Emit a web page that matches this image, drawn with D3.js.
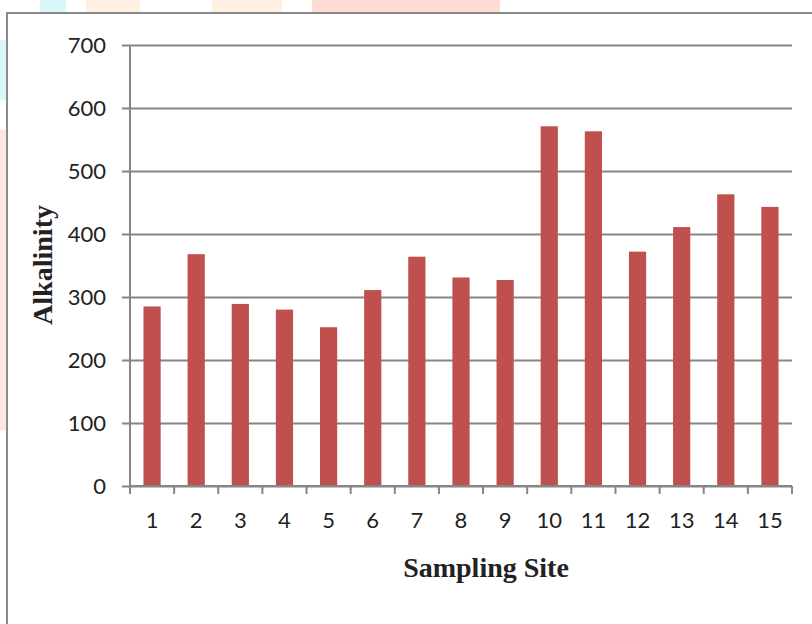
<!DOCTYPE html>
<html lang="en">
<head>
<meta charset="UTF-8">
<title>Alkalinity by Sampling Site</title>
<script src="https://d3js.org/d3.v7.min.js"></script>
<style>
  body { margin: 0; background: #fff; }
  svg text { fill: #222; }
</style>
</head>
<body>
<script>
    // chart data
    const sites = ["1","2","3","4","5","6","7","8","9","10","11","12","13","14","15"];
    const alkalinity = [285, 368, 289, 280, 252, 311, 364, 331, 327, 571, 563, 372, 411, 463, 443];
    const yTicks = [0, 100, 200, 300, 400, 500, 600, 700];

    const width = 812, height = 624;
    const plot = {left: 130, right: 792, top: 45, bottom: 486};

    const svg = d3.select("body").append("svg")
        .attr("width", width)
        .attr("height", height);

    // faint watermark patches behind the chart frame
    const patches = [
        [40, 0, 26, 13, "#d9f7fb"], [86, 0, 54, 13, "#fff0e2"],
        [212, 0, 70, 13, "#fff0e2"], [312, 0, 188, 13, "#ffdcd4"],
        [0, 40, 6, 60, "#d9f7fb"], [0, 130, 6, 300, "#ffe6e6"]
    ];
    svg.selectAll("rect.bg").data(patches).enter().append("rect")
        .attr("class", "bg")
        .attr("x", d => d[0]).attr("y", d => d[1])
        .attr("width", d => d[2]).attr("height", d => d[3])
        .attr("fill", d => d[4]);

    // chart frame
    svg.append("path")
        .attr("d", `M7,${height} V13 H${width}`)
        .attr("fill", "none")
        .attr("stroke", "#8a8a8a")
        .attr("stroke-width", 2);

    const x = d3.scaleBand()
        .domain(sites)
        .range([plot.left, plot.right])
        .paddingInner(0.61)
        .paddingOuter(0.305);

    const y = d3.scaleLinear()
        .domain([0, 700])
        .range([plot.bottom, plot.top]);

    // gridlines + left axis
    const yAxis = svg.append("g")
        .attr("transform", `translate(${plot.left},0)`)
        .call(d3.axisLeft(y).tickValues(yTicks).tickSize(8));
    yAxis.select(".domain").remove();
    yAxis.selectAll(".tick line")
        .attr("x1", -8).attr("x2", plot.right - plot.left)
        .attr("stroke", "#868686").attr("stroke-width", 2);
    yAxis.selectAll(".tick text")
        .attr("x", -24)
        .attr("dy", "0.36em")
        .style("font-family", "Lato, 'Open Sans', sans-serif")
        .style("font-size", "22px");

    svg.append("line")
        .attr("x1", plot.left).attr("x2", plot.left)
        .attr("y1", plot.top).attr("y2", plot.bottom)
        .attr("stroke", "#868686").attr("stroke-width", 2);

    // bars
    svg.append("g")
        .selectAll("rect")
        .data(alkalinity)
        .enter()
        .append("rect")
        .attr("x", (d, i) => x(sites[i]))
        .attr("y", d => y(d))
        .attr("width", x.bandwidth())
        .attr("height", d => y(0) - y(d))
        .attr("fill", "#c0504d");

    // bottom axis with ticks at band boundaries
    const xAxis = svg.append("g")
        .attr("transform", `translate(0,${plot.bottom})`);
    xAxis.append("line")
        .attr("x1", plot.left).attr("x2", plot.right)
        .attr("stroke", "#868686").attr("stroke-width", 2);
    const step = x.step();
    xAxis.selectAll("line.tk")
        .data(d3.range(sites.length + 1))
        .enter().append("line")
        .attr("class", "tk")
        .attr("x1", i => plot.left + i * step)
        .attr("x2", i => plot.left + i * step)
        .attr("y1", 0).attr("y2", 8)
        .attr("stroke", "#868686").attr("stroke-width", 2);
    xAxis.selectAll("text")
        .data(sites)
        .enter().append("text")
        .attr("x", d => x(d) + x.bandwidth() / 2)
        .attr("y", 42)
        .attr("text-anchor", "middle")
        .style("font-family", "Lato, 'Open Sans', sans-serif")
        .style("font-size", "22px")
        .text(d => d);

    // axis titles
    svg.append("text")
        .attr("x", 486).attr("y", 577)
        .attr("text-anchor", "middle")
        .style("font-family", "'Liberation Serif', 'DejaVu Serif', serif")
        .style("font-weight", "bold")
        .style("font-size", "28px")
        .text("Sampling Site");

    svg.append("text")
        .attr("transform", "translate(52,265) rotate(-90)")
        .attr("text-anchor", "middle")
        .attr("textLength", 120)
        .attr("lengthAdjust", "spacingAndGlyphs")
        .style("font-family", "'Liberation Serif', 'DejaVu Serif', serif")
        .style("font-weight", "bold")
        .style("font-size", "27px")
        .text("Alkalinity");
</script>
</body>
</html>
